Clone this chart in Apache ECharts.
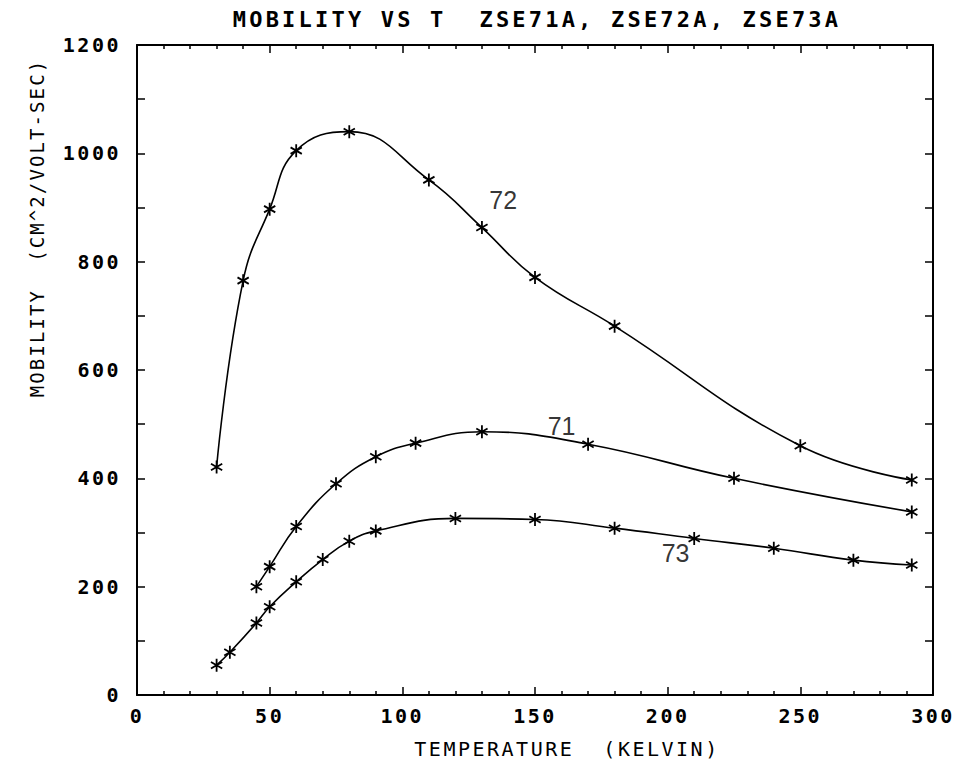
<!DOCTYPE html>
<html>
<head>
<meta charset="utf-8">
<script src="https://cdn.jsdelivr.net/npm/echarts@6/dist/echarts.min.js"></script>
<style>
  html, body { margin: 0; padding: 0; background: #fff; }
  #chart { width: 964px; height: 771px; }
  #chart text { white-space: pre; }
</style>
</head>
<body>
<div id="chart"></div>
<script>
// Temperature (K) and Hall mobility (cm^2/V-s) for the three samples
const tempZSE71 = [45, 50, 60, 75, 90, 105, 130, 170, 225, 292];
const mobZSE71  = [200, 237, 311, 390, 440, 465, 486, 463, 400, 338];

const tempZSE72 = [30, 40, 50, 60, 80, 110, 130, 150, 180, 250, 292];
const mobZSE72  = [421, 765, 897, 1005, 1040, 951, 863, 771, 681, 460, 397];

const tempZSE73 = [30, 35, 45, 50, 60, 70, 80, 90, 120, 150, 180, 210, 240, 270, 292];
const mobZSE73  = [55, 79, 133, 163, 209, 250, 284, 303, 326, 324, 308, 289, 271, 249, 240];

// Curve tags written next to each curve
const tagText = ['72', '71', '73'];
const tagTemp = [138, 160, 203];
const tagMob  = [914, 497, 262];

const titleText = 'MOBILITY VS T  ZSE71A, ZSE72A, ZSE73A';
const xName = 'TEMPERATURE  (KELVIN)';
const yName = 'MOBILITY  (CM^2/VOLT-SEC)';

const MONO = "'DejaVu Sans Mono', monospace";
const asterisk = 'path://M5,0L5,10M0.67,2.5L9.33,7.5M0.67,7.5L9.33,2.5';

// plotter-style tracking, keyed by font size
const tracking = { 22: 3.2, 20: 2.5, 19: 2.1 };

function pairs(xs, ys) { return xs.map((x, i) => [x, ys[i]]); }

function curve(name, xs, ys) {
  return {
    name, type: 'line', xAxisIndex: 0, yAxisIndex: 0,
    data: pairs(xs, ys),
    smooth: 0.45,
    symbol: asterisk, symbolSize: 13, symbolKeepAspect: true,
    lineStyle: { color: '#000', width: 1.6 },
    itemStyle: { color: '#000', borderColor: '#000', borderWidth: 1.8 },
    emphasis: { disabled: true },
    z: 3
  };
}

const axisLine = { show: true, onZero: false, lineStyle: { color: '#000', width: 2 } };
const tickLabel = { color: '#000', fontFamily: MONO, fontSize: 20, fontWeight: 'bold', formatter: v => String(v) };

function xAx(pos, labels) {
  return {
    type: 'value', min: 0, max: 300, interval: 50, position: pos,
    axisLine,
    axisTick: { show: true, inside: true, length: 8, lineStyle: { color: '#000', width: 1.5 } },
    minorTick: { show: true, splitNumber: 5, length: 4, lineStyle: { color: '#000', width: 1.5 } },
    splitLine: { show: false }, minorSplitLine: { show: false },
    axisLabel: Object.assign({ show: labels, margin: 11 }, tickLabel)
  };
}
function yAx(pos, labels) {
  return {
    type: 'value', min: 0, max: 1200, interval: 200, position: pos,
    axisLine,
    axisTick: { show: true, inside: true, length: 8, lineStyle: { color: '#000', width: 1.5 } },
    minorTick: { show: true, splitNumber: 2, length: 8, lineStyle: { color: '#000', width: 1.5 } },
    splitLine: { show: false }, minorSplitLine: { show: false },
    axisLabel: Object.assign({ show: labels, margin: 16 }, tickLabel)
  };
}

function caption(text, x, y, size, weight, rot) {
  return {
    type: 'text', x, y, rotation: rot || 0,
    style: { text, fontFamily: MONO, fontSize: size, fontWeight: weight, fill: '#000', textAlign: 'center', textVerticalAlign: 'middle' }
  };
}

const chart = echarts.init(document.getElementById('chart'), null, { renderer: 'svg' });
chart.setOption({
  backgroundColor: '#fff',
  animation: false,
  grid: { left: 137, right: 31, top: 45, bottom: 76, containLabel: false },
  xAxis: [xAx('bottom', true), xAx('top', false)],
  yAxis: [yAx('left', true), yAx('right', false)],
  graphic: [
    caption(titleText, 537, 19, 22, 'bold'),
    caption(xName, 567, 749, 20, 'normal'),
    caption(yName, 37, 228, 19, 'normal', Math.PI / 2)
  ],
  series: [
    curve('ZSE72A', tempZSE72, mobZSE72),
    curve('ZSE71A', tempZSE71, mobZSE71),
    curve('ZSE73A', tempZSE73, mobZSE73),
    {
      name: 'tags', type: 'scatter', xAxisIndex: 0, yAxisIndex: 0,
      symbolSize: 1, itemStyle: { color: 'rgba(0,0,0,0)' },
      data: tagText.map((t, i) => ({ value: [tagTemp[i], tagMob[i]], label: { formatter: t } })),
      label: { show: true, position: 'inside', color: '#000', fontFamily: "'Liberation Sans Narrow', 'Liberation Sans'", fontSize: 25 },
      emphasis: { disabled: true },
      z: 4
    }
  ]
});

function applyTracking() {
  document.querySelectorAll('#chart text').forEach(t => {
    const fs = Math.round(parseFloat(getComputedStyle(t).fontSize));
    if (tracking[fs] !== undefined) t.style.letterSpacing = tracking[fs] + 'px';
  });
}
applyTracking();
chart.on('finished', applyTracking);
</script>
</body>
</html>
